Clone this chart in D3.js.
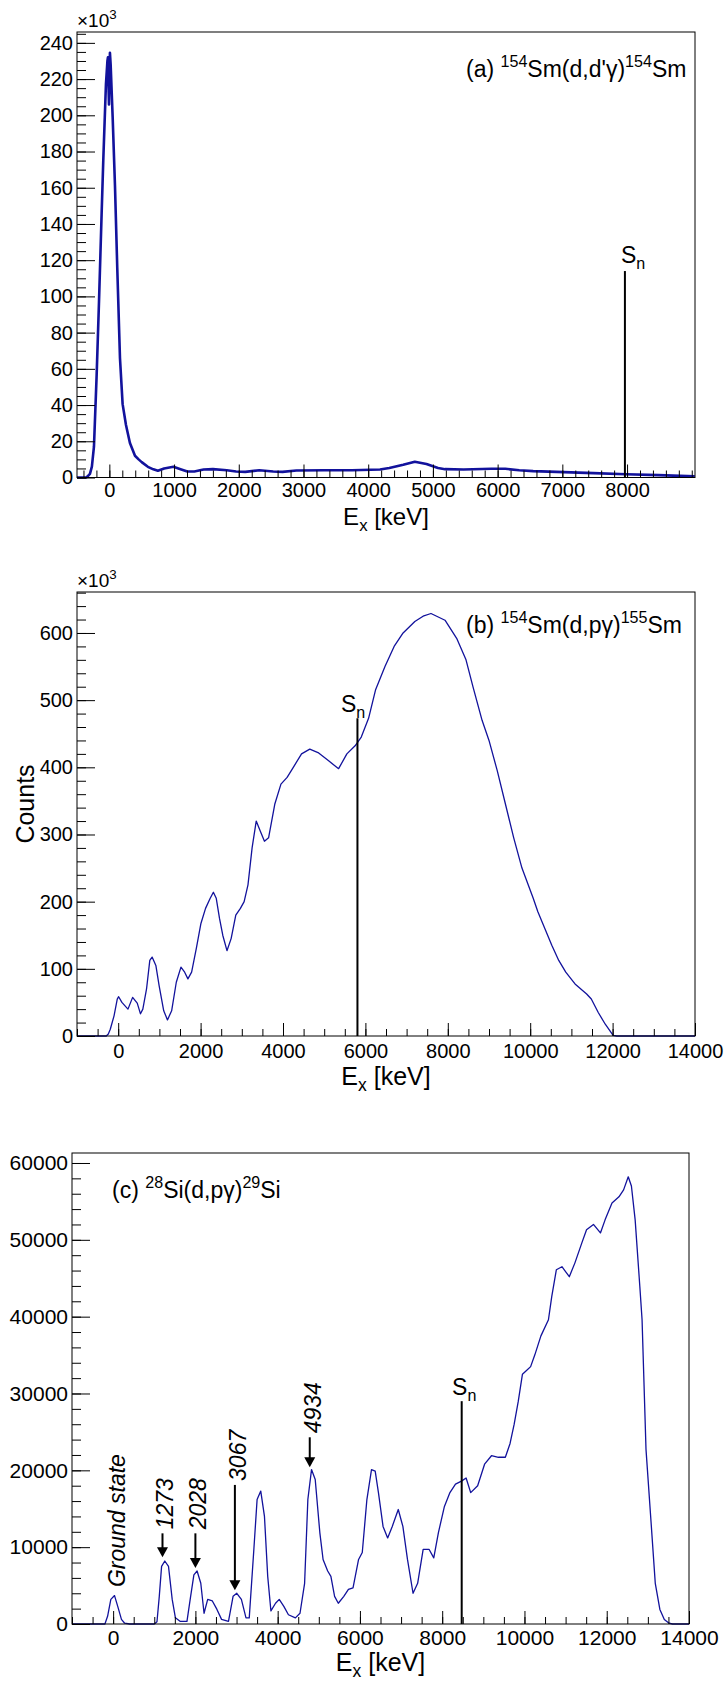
<!DOCTYPE html>
<html>
<head>
<meta charset="utf-8">
<script src="https://cdn.jsdelivr.net/npm/d3@7"></script>
<style>
body { margin: 0; background: #fff; }
svg { display: block; font-family: "Liberation Sans", Arial, Helvetica, sans-serif; }
</style>
</head>
<body>
<svg id="fig" width="727" height="1683"></svg>
<script>
// ---- panel (a) 154Sm(d,d'g), counts in units of 10^3
var aEnergy = [-500,-360,-340,-300,-270,-238,-197,-161,-120,-94,-53,-30,-22,-12,-6,0,9,20,51,87,122,164,205,257,318,396,452,500,595,680,750,846,990,1100,1205,1313,1456,1600,1815,1958,2100,2317,2532,2676,2890,3321,3752,4182,4326,4541,4720,4900,5079,5187,5473,5904,6119,6334,6549,6908,7482,7984,8487,9046];
var aCounts = [0,0,0.5,2,6,17,56,96,145,175,217,230,232,215,206,220,234.5,228,199,161,116,66,40.5,29,19,12,10,8.5,5.9,4.5,3.7,5,5.9,4.6,3.3,3.3,4.4,4.6,4,3.3,3.1,4,3.3,3.1,3.9,4,4,4.4,5.2,7,8.7,7.4,5.2,4.6,4.4,4.8,4.8,4,3.5,3.1,2.4,1.8,1.3,0.6];
var aXTicks = [0,1000,2000,3000,4000,5000,6000,7000,8000];
var aYTicks = [0,20,40,60,80,100,120,140,160,180,200,220,240];

// ---- panel (b) 154Sm(d,pg), counts in units of 10^3
var bEnergy = [-1000,-290,-240,-192,-101,-23,11,90,237,350,462,541,598,688,767,823,914,993,1105,1196,1297,1410,1523,1613,1692,1782,1895,2008,2120,2233,2310,2380,2459,2538,2640,2741,2854,2966,3057,3150,3250,3350,3450,3550,3650,3800,3950,4100,4250,4450,4650,4850,5100,5350,5550,5750,5900,6077,6245,6475,6697,6915,7200,7400,7592,7932,8215,8442,8610,8832,9000,9200,9400,9600,9800,10073,10186,10355,10524,10693,10863,11088,11370,11483,11652,11822,12013,12100,14000];
var bCounts = [0,0,3,10,30,55,58.5,50,40,57.5,49,33,40,70,112.5,117.5,105,75,37.5,24,37.5,80,102.5,95,85,95,130,167.5,190,205,214,205,175,150,127,145,180,190,200,225,280,320,305,290,295,345,375,385,400,420,427,422,410,398,420,432,445,473,515,550,580,600,617,625,629,619,592,560,520,470,440,395,345,295,250,205,185,160,135,112.5,95,77.5,62.5,55,35,17.5,1,0,0];
var bXTicks = [0,2000,4000,6000,8000,10000,12000,14000];
var bYTicks = [0,100,200,300,400,500,600];

// ---- panel (c) 28Si(d,pg)
var cEnergy = [-1000,-200,-135,-56,34,112,202,280,400,1000,1066,1122,1178,1256,1346,1436,1514,1626,1795,1884,1963,2041,2131,2210,2299,2412,2524,2636,2804,2916,3006,3118,3230,3309,3421,3500,3589,3679,3758,3836,3948,4038,4150,4262,4431,4543,4655,4734,4823,4913,5025,5104,5216,5294,5384,5474,5608,5720,5832,5967,6057,6169,6281,6371,6450,6562,6674,6786,6932,7044,7156,7291,7403,7537,7683,7795,7908,8054,8188,8323,8469,8581,8693,8862,9030,9198,9366,9535,9650,9750,9850,9950,10050,10150,10250,10400,10583,10663,10775,10911,11090,11227,11395,11509,11677,11847,11960,12128,12297,12410,12523,12600,12691,12805,12859,12955,13068,13180,13292,13400,13516,13600,14000];
var cCounts = [0,0,1000,3200,3700,2300,600,100,0,0,300,3600,7500,8200,7500,3200,800,350,350,3600,6400,6900,5300,1400,3200,3000,1900,600,350,3600,4000,3200,800,800,9700,16200,17300,14000,6200,1700,2700,3200,2300,1200,800,1400,5300,16200,20100,18800,11900,8400,6900,6200,3600,2700,3600,4500,4700,8400,9300,16200,20100,19900,17100,12700,11200,12700,14900,12700,8400,4000,5300,9700,9700,8600,11900,15300,17100,18200,18600,19000,17100,18000,20800,21900,21700,21700,23500,26000,29000,32500,33000,33500,35000,37500,39600,42600,46100,46500,45200,47000,49600,51300,52000,50900,52600,54800,55600,56500,58200,57000,52600,43900,39600,22700,14000,5300,1900,600,100,0,0];
var cXTicks = [0,2000,4000,6000,8000,10000,12000,14000];
var cYTicks = [0,10000,20000,30000,40000,50000,60000];

// neutron separation energies and the top of each marker line
var snEnergy = [7967, 5807, 8474];
var snTop = [114, 473, 29000];
var snLabelEnergy = [7906, 5408, 8240];
var snLabelCounts = [118.4, 482, 29800];

// level labels in panel (c)
var levelNames = ["1273", "2028", "3067", "4934"];
var levelEnergy = [1200, 2000, 2960, 4780];
var levelTip = [8700, 7300, 4400, 20400];
var levelStart = [11800, 11800, 18100, 24300];
var groundName = "Ground state";
var groundEnergy = 0;
var groundStart = 4800;

var lineColor = "#12129c";
var svg = d3.select("#fig");
svg.append("rect").attr("width", 727).attr("height", 1683).attr("fill", "#fff");

// text with super/subscripts: parts = [[text, "sup"|"sub"|null], ...]
function rich(sel, parts, size) {
  var shift = 0;
  parts.forEach(function (p) {
    var t = sel.append("tspan").text(p[0]);
    var want = p[1] == "sup" ? -0.42 * size : p[1] == "sub" ? 0.25 * size : 0;
    t.attr("dy", want - shift);
    if (p[1]) t.attr("font-size", 0.7 * size);
    shift = want;
  });
}

var panels = [
  { xs: aEnergy, ys: aCounts, xTicks: aXTicks, yTicks: aYTicks,
    left: 77, right: 695, top: 32, bottom: 477.5,
    xDomain: [-500, 9050], yDomain: [0, 246], xMinor: d3.range(-400, 9001, 200), yMinor: d3.range(0, 246, 5),
    lw: 2.6, tickFont: 20, xPad: 5, titleFont: 24, titleY: 525,
    label: [["(a) "], ["154", "sup"], ["Sm(d,d'\u03b3)"], ["154", "sup"], ["Sm"]], labelX: 466, labelY: 77,
    exp: true, expY: 27, counts: false },
  { xs: bEnergy, ys: bCounts, xTicks: bXTicks, yTicks: bYTicks,
    left: 77, right: 695, top: 592, bottom: 1036,
    xDomain: [-1000, 14000], yDomain: [0, 661], xMinor: d3.range(-1000, 14001, 500), yMinor: d3.range(0, 661, 20),
    lw: 1.3, tickFont: 20, xPad: 8, titleFont: 25, titleY: 1085,
    label: [["(b) "], ["154", "sup"], ["Sm(d,p\u03b3)"], ["155", "sup"], ["Sm"]], labelX: 466, labelY: 633,
    exp: true, expY: 587, counts: true },
  { xs: cEnergy, ys: cCounts, xTicks: cXTicks, yTicks: cYTicks,
    left: 72, right: 689, top: 1153, bottom: 1624,
    xDomain: [-1000, 14000], yDomain: [0, 61300], xMinor: d3.range(-1000, 14001, 500), yMinor: d3.range(0, 61300, 2000),
    lw: 1.3, tickFont: 21, xPad: 6, titleFont: 25, titleY: 1671,
    label: [["(c) "], ["28", "sup"], ["Si(d,p\u03b3)"], ["29", "sup"], ["Si"]], labelX: 112, labelY: 1198,
    exp: false, counts: false }
];

panels.forEach(function (p, i) {
  var g = svg.append("g");
  var x = d3.scaleLinear().domain(p.xDomain).range([p.left, p.right]);
  var y = d3.scaleLinear().domain(p.yDomain).range([p.bottom, p.top]);
  p.x = x; p.y = y;

  var line = d3.line().x(function (d) { return x(d[0]); }).y(function (d) { return y(d[1]); });
  g.append("path").datum(d3.zip(p.xs, p.ys))
    .attr("d", line).attr("fill", "none")
    .attr("stroke", lineColor).attr("stroke-width", p.lw).attr("stroke-linejoin", "round");

  function clean(a) {
    a.select(".domain").remove();
    a.attr("font-family", null).attr("font-size", p.tickFont).attr("color", "#000");
    a.selectAll("line").attr("stroke-width", 1);
  }
  g.append("g").attr("transform", "translate(0," + p.bottom + ")")
    .call(d3.axisBottom(x).tickValues(p.xMinor).tickSize(-7).tickFormat("")).call(clean);
  g.append("g").attr("transform", "translate(0," + p.bottom + ")")
    .call(d3.axisBottom(x).tickValues(p.xTicks).tickSize(-13).tickPadding(p.xPad).tickFormat(d3.format("d"))).call(clean);
  g.append("g").attr("transform", "translate(" + p.left + ",0)")
    .call(d3.axisLeft(y).tickValues(p.yMinor).tickSize(-9).tickFormat("")).call(clean);
  g.append("g").attr("transform", "translate(" + p.left + ",0)")
    .call(d3.axisLeft(y).tickValues(p.yTicks).tickSize(-18).tickPadding(4).tickFormat(d3.format("d"))).call(clean);

  g.append("rect").attr("x", p.left).attr("y", p.top)
    .attr("width", p.right - p.left).attr("height", p.bottom - p.top)
    .attr("fill", "none").attr("stroke", "#000").attr("stroke-width", 1);

  rich(g.append("text").attr("x", (p.left + p.right) / 2).attr("y", p.titleY)
    .attr("text-anchor", "middle").attr("font-size", p.titleFont),
    [["E"], ["x", "sub"], [" [keV]"]], p.titleFont);

  rich(g.append("text").attr("x", p.labelX).attr("y", p.labelY).attr("font-size", 23), p.label, 23);

  if (p.exp) {
    rich(g.append("text").attr("x", p.left).attr("y", p.expY).attr("font-size", 19),
      [["\u00d710"], ["3", "sup"]], 19);
  }
  if (p.counts) {
    g.append("text").attr("transform", "translate(34," + ((p.top + p.bottom) / 2 - 10) + ") rotate(-90)")
      .attr("text-anchor", "middle").attr("font-size", 25).text("Counts");
  }

  // S_n marker
  g.append("line").attr("x1", x(snEnergy[i])).attr("x2", x(snEnergy[i]))
    .attr("y1", y(0)).attr("y2", y(snTop[i]))
    .attr("stroke", "#000").attr("stroke-width", 2);
  rich(g.append("text").attr("x", x(snLabelEnergy[i])).attr("y", y(snLabelCounts[i])).attr("font-size", 23),
    [["S"], ["n", "sub"]], 23);
});

// level annotations in panel (c)
var pc = panels[2];
var ann = svg.append("g").attr("font-size", 23).attr("font-style", "italic");
ann.append("text")
  .attr("transform", "translate(" + (pc.x(groundEnergy) + 12) + "," + pc.y(groundStart) + ") rotate(-90)")
  .text(groundName);
levelNames.forEach(function (name, k) {
  var ax = pc.x(levelEnergy[k]);
  var y0 = pc.y(levelStart[k]);
  var y1 = pc.y(levelTip[k]);
  ann.append("line").attr("x1", ax).attr("x2", ax).attr("y1", y0).attr("y2", y1 - 8)
    .attr("stroke", "#000").attr("stroke-width", 2);
  ann.append("path")
    .attr("d", "M" + (ax - 5.5) + "," + (y1 - 10) + "L" + (ax + 5.5) + "," + (y1 - 10) + "L" + ax + "," + y1 + "Z")
    .attr("fill", "#000");
  ann.append("text")
    .attr("transform", "translate(" + (ax + 11) + "," + (y0 - 4) + ") rotate(-90)")
    .text(name);
});
</script>
</body>
</html>
